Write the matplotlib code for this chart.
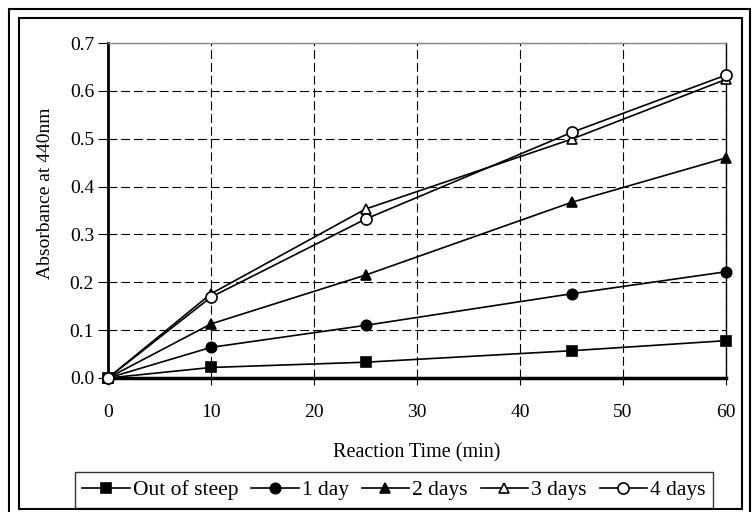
import matplotlib
matplotlib.use("Agg")
import matplotlib.pyplot as plt
from matplotlib.patches import Rectangle

plt.rcParams['font.family'] = ['Liberation Serif', 'DejaVu Serif']

time_min = [0, 10, 25, 45, 60]
series_names = ["Out of steep", "1 day", "2 days", "3 days", "4 days"]
out_of_steep = [0.0, 0.022, 0.033, 0.057, 0.078]
day1 = [0.0, 0.064, 0.110, 0.176, 0.222]
day2 = [0.0, 0.113, 0.215, 0.367, 0.460]
day3 = [0.0, 0.176, 0.353, 0.499, 0.624]
day4 = [0.0, 0.169, 0.332, 0.513, 0.633]
x_ticks = [0, 10, 20, 30, 40, 50, 60]
y_ticks = [0.0, 0.1, 0.2, 0.3, 0.4, 0.5, 0.6, 0.7]

W, H = 753, 512
fig = plt.figure(figsize=(W / 100, H / 100), dpi=100)
ax = fig.add_axes([108 / W, 1 - 378 / H, (726 - 108) / W, (378 - 43) / H])

styles = [
    dict(marker='s', mfc='black', ms=7.5),
    dict(marker='o', mfc='black', ms=7.5),
    dict(marker='^', mfc='black', ms=7.5),
    dict(marker='^', mfc='white', ms=7.5),
    dict(marker='o', mfc='white', ms=8),
]
data = [out_of_steep, day1, day2, day3, day4]
for name, ys, st in zip(series_names, data, styles):
    ax.plot(time_min, ys, color='black', lw=1.2, mec='black', mew=1.2,
            label=name, clip_on=False, zorder=3, **st)

ax.set_xlim(0, 60)
ax.set_ylim(0, 0.7)
ax.set_xticks(x_ticks)
ax.set_yticks(y_ticks)
ax.set_yticklabels([f"{v:.1f}" for v in y_ticks])
ax.grid(True, color='black', linestyle=(0, (8, 3.5)), lw=0.8)
ax.tick_params(axis='both', labelsize=14, direction='out', width=0.8, color='black')
ax.tick_params(axis='x', length=5, pad=14)
ax.tick_params(axis='y', length=7, pad=3)
ax.spines['left'].set_linewidth(2)
ax.spines['bottom'].set_linewidth(2.5)
ax.spines['top'].set_color('#888888')
ax.spines['top'].set_linewidth(1)
ax.spines['right'].set_linewidth(1)
ax.set_xlabel("Reaction Time (min)", fontsize=14.5)
ax.set_ylabel("Absorbance at 440nm", fontsize=14)
ax.xaxis.set_label_coords(0.5, -(453 - 378) / (378 - 43), transform=ax.transAxes)
ax.yaxis.set_label_coords(-(108 - 45) / (726 - 108), (378 - 193) / (378 - 43))
ax.xaxis.label.set_va('center')
ax.yaxis.label.set_va('center')

leg = ax.legend(loc='center', bbox_to_anchor=(394 / W, 1 - 490 / H), bbox_transform=fig.transFigure,
                ncol=5, fontsize=15.5, frameon=True, fancybox=False, edgecolor='black',
                handlelength=2.2, handletextpad=0.15, columnspacing=0.6, borderpad=0.35,
                borderaxespad=0)
leg.get_frame().set_linewidth(1)

# double border around the figure
fig.patches.append(Rectangle((9 / W, -0.05), (750 - 9) / W, 1 - 9 / H + 0.05, transform=fig.transFigure,
                             fill=False, edgecolor='black', lw=1.5))
fig.patches.append(Rectangle((19 / W, 1 - 509 / H), (742 - 19) / W, (509 - 18) / H, transform=fig.transFigure,
                             fill=False, edgecolor='black', lw=1.5))

fig.savefig("out.png", dpi=100)
